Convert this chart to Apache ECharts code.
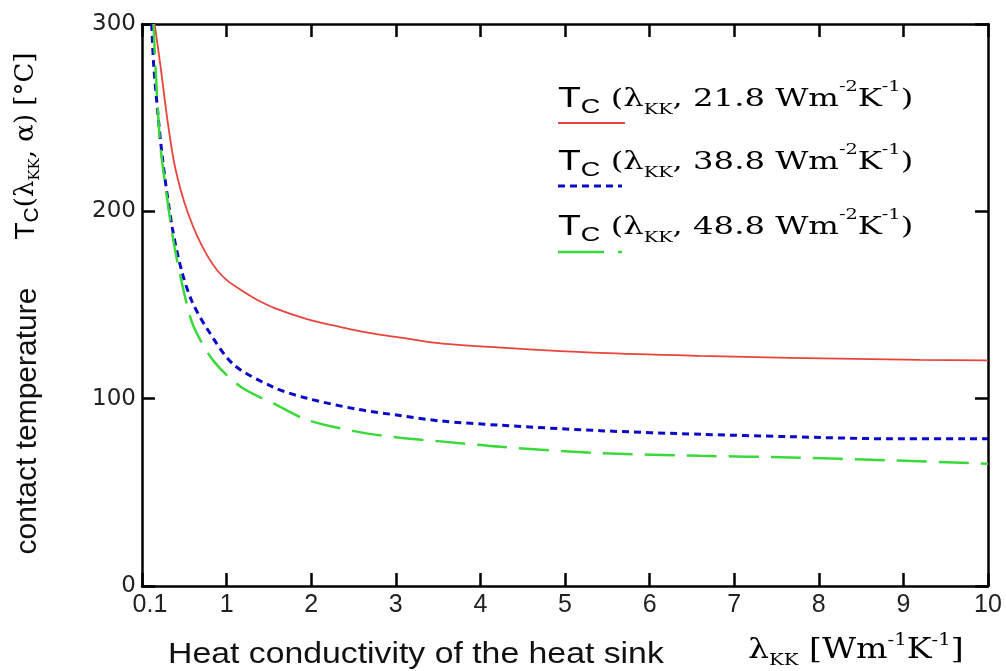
<!DOCTYPE html>
<html>
<head>
<meta charset="utf-8">
<script src="https://cdn.jsdelivr.net/npm/echarts@6/dist/echarts.min.js"></script>
<style>html,body{margin:0;padding:0;background:#fff;}#c{width:1006px;height:671px;}</style>
</head>
<body>
<div id="c"></div>
<script>
// ---- data ----
var xTicks = [0, 1, 2, 3, 4, 5, 6, 7, 8, 9, 10];
var xTickLabels = ['0.1', '1', '2', '3', '4', '5', '6', '7', '8', '9', '10'];
var yTicks = [0, 100, 200, 300];

var redX = [0.15, 0.22, 0.30, 0.38, 0.46, 0.54, 0.65, 0.77, 0.89, 1.01, 1.17, 1.36, 1.56, 1.95, 2.35, 2.74, 3.13, 3.53, 4.24, 5.42, 6.6, 7.66, 9.2, 10];
var redY = [300, 277, 249, 226, 211, 199.5, 187, 176.5, 168.4, 163, 158, 152.8, 148.5, 142.5, 138.2, 134.7, 132.1, 129.5, 127.3, 124.4, 122.8, 121.8, 120.7, 120.4];

var blueX = [0.115, 0.14, 0.24, 0.36, 0.47, 0.59, 0.77, 1.08, 1.55, 1.95, 2.54, 3.05, 3.53, 4.24, 5.42, 6.6, 7.66, 8.84, 10];
var blueY = [300, 277, 229, 190.7, 168, 152, 137.3, 118.3, 106.2, 100.2, 94.4, 91, 88.1, 85.8, 82.9, 81, 79.7, 78.6, 78.6];

var greenX = [0.135, 0.18, 0.22, 0.30, 0.38, 0.50, 0.61, 0.85, 1.17, 1.56, 1.95, 2.54, 3.05, 3.53, 4.24, 5.42, 6.6, 7.66, 8.84, 10];
var greenY = [300, 259.6, 233.7, 206, 182, 156, 138.5, 119.9, 106.2, 97.3, 88.7, 82.4, 79.1, 77.2, 74.3, 70.9, 69.5, 68.6, 67.1, 65.3];

var seriesNames = ['21.8', '38.8', '48.8'];

function zip(xs, ys) { return xs.map(function (x, i) { return [x, ys[i]]; }); }

var RED = '#e8443c', BLUE = '#0a0ac8', GREEN = '#3ad93a';
var SERIF = 'DejaVu Serif';
var SANS = 'Liberation Sans';
var TXT = '#111';

var chart = echarts.init(document.getElementById('c'));

function axisCommon() {
  return {
    axisLine: { show: true, onZero: false, lineStyle: { color: '#000', width: 2.5 } },
    axisTick: { show: true, inside: true, length: 13, lineStyle: { color: '#000', width: 2.5 } },
    splitLine: { show: false }
  };
}

var richLegend = {
  T: { fontFamily: SANS, fontSize: 29, color: TXT, lineHeight: 38 },
  c: { fontFamily: SANS, fontSize: 21, color: TXT, verticalAlign: 'bottom', lineHeight: 32 },
  m: { fontFamily: SERIF, fontSize: 25, color: TXT, lineHeight: 38 },
  sub: { fontFamily: SERIF, fontSize: 15, color: TXT, verticalAlign: 'bottom', lineHeight: 30 },
  sup: { fontFamily: SERIF, fontSize: 15, color: TXT, verticalAlign: 'top', lineHeight: 32 }
};

function legendText(v) {
  return '{T|T}{c|C}{m| (λ}{sub|KK}{m|, ' + v + ' Wm}{sup|-2}{m|K}{sup|-1}{m|)}';
}

var legendRows = [
  { y: 99, ly: 123, color: RED, dash: null, width: 2, x2: 625 },
  { y: 162, ly: 186, color: BLUE, dash: [7, 5], width: 3, x2: 622 },
  { y: 227, ly: 252, color: GREEN, dash: [46, 14], width: 2.5, x2: 622 }
];

var graphics = [];
legendRows.forEach(function (r, i) {
  graphics.push({
    type: 'text', x: 558, y: r.y, scaleX: 1.29,
    style: { text: legendText(seriesNames[i]), rich: richLegend, align: 'left', verticalAlign: 'middle' }
  });
  graphics.push({
    type: 'line', shape: { x1: 558, y1: r.ly, x2: r.x2, y2: r.ly },
    style: { stroke: r.color, lineWidth: r.width, lineDash: r.dash }
  });
});

// y-axis titles (rotated)
graphics.push({
  type: 'text', x: 28, y: 421, rotation: Math.PI / 2,
  style: { text: 'contact temperature', font: '30px ' + SANS, fill: TXT, align: 'center', verticalAlign: 'middle' }
});
graphics.push({
  type: 'text', x: 26, y: 146, rotation: Math.PI / 2,
  style: {
    text: '{T|T}{c|C}{m|(λ}{sub|KK}{m|, α) [°C]}',
    align: 'center', verticalAlign: 'middle',
    rich: {
      T: { fontFamily: SANS, fontSize: 28, color: TXT, lineHeight: 34 },
      c: { fontFamily: SANS, fontSize: 21, color: TXT, verticalAlign: 'bottom', lineHeight: 28 },
      m: { fontFamily: SERIF, fontSize: 26, color: TXT, lineHeight: 34 },
      sub: { fontFamily: SERIF, fontSize: 15, color: TXT, verticalAlign: 'bottom', lineHeight: 27 }
    }
  }
});
// x-axis titles
graphics.push({
  type: 'text', x: 168, y: 655, scaleX: 1.165,
  style: { text: 'Heat conductivity of the heat sink', font: '29px ' + SANS, fill: TXT, align: 'left', verticalAlign: 'middle' }
});
graphics.push({
  type: 'text', x: 748, y: 651, scaleX: 1.23,
  style: {
    text: '{m|λ}{sub|KK}{m| [Wm}{sup|-1}{m|K}{sup|-1}{m|]}',
    align: 'left', verticalAlign: 'middle',
    rich: {
      m: { fontFamily: SERIF, fontSize: 27, color: TXT, lineHeight: 36 },
      sub: { fontFamily: SERIF, fontSize: 16, color: TXT, verticalAlign: 'bottom', lineHeight: 29 },
      sup: { fontFamily: SERIF, fontSize: 16, color: TXT, verticalAlign: 'top', lineHeight: 32 }
    }
  }
});

var option = {
  backgroundColor: '#fff',
  animation: false,
  grid: { left: 142, right: 18, top: 24, bottom: 85, containLabel: false },
  xAxis: [
    Object.assign(axisCommon(), {
      type: 'value', position: 'bottom', min: 0, max: 10, interval: 1,
      axisLabel: {
        show: true, margin: 7, color: '#222', fontFamily: SANS, fontSize: 25,
        formatter: function (v) {
          var i = xTicks.indexOf(v);
          var t = i >= 0 ? xTickLabels[i] : '';
          return v === 0 ? '{f|' + t + '}' : t;
        },
        rich: { f: { fontFamily: SANS, fontSize: 25, color: '#222', padding: [0, 0, 0, 16] } }
      }
    }),
    Object.assign(axisCommon(), {
      type: 'value', position: 'top', min: 0, max: 10, interval: 1,
      axisLabel: { show: false }
    })
  ],
  yAxis: [
    Object.assign(axisCommon(), {
      type: 'value', position: 'left', min: 0, max: 300, interval: 100,
      axisLabel: { show: true, margin: 6, color: '#222', fontFamily: 'DejaVu Sans', fontSize: 23 }
    }),
    Object.assign(axisCommon(), {
      type: 'value', position: 'right', min: 0, max: 300, interval: 100,
      axisLabel: { show: false }
    })
  ],
  series: [
    { name: seriesNames[0], type: 'line', data: zip(redX, redY), showSymbol: false, smooth: 0.3,
      lineStyle: { color: RED, width: 1.8 }, clip: true },
    { name: seriesNames[1], type: 'line', data: zip(blueX, blueY), showSymbol: false, smooth: 0.3,
      lineStyle: { color: BLUE, width: 3, type: [7, 5] }, clip: true },
    { name: seriesNames[2], type: 'line', data: zip(greenX, greenY), showSymbol: false, smooth: 0.3,
      lineStyle: { color: GREEN, width: 2.5, type: [30, 12] }, clip: true }
  ],
  graphic: graphics
};
chart.setOption(option);
</script>
</body>
</html>
